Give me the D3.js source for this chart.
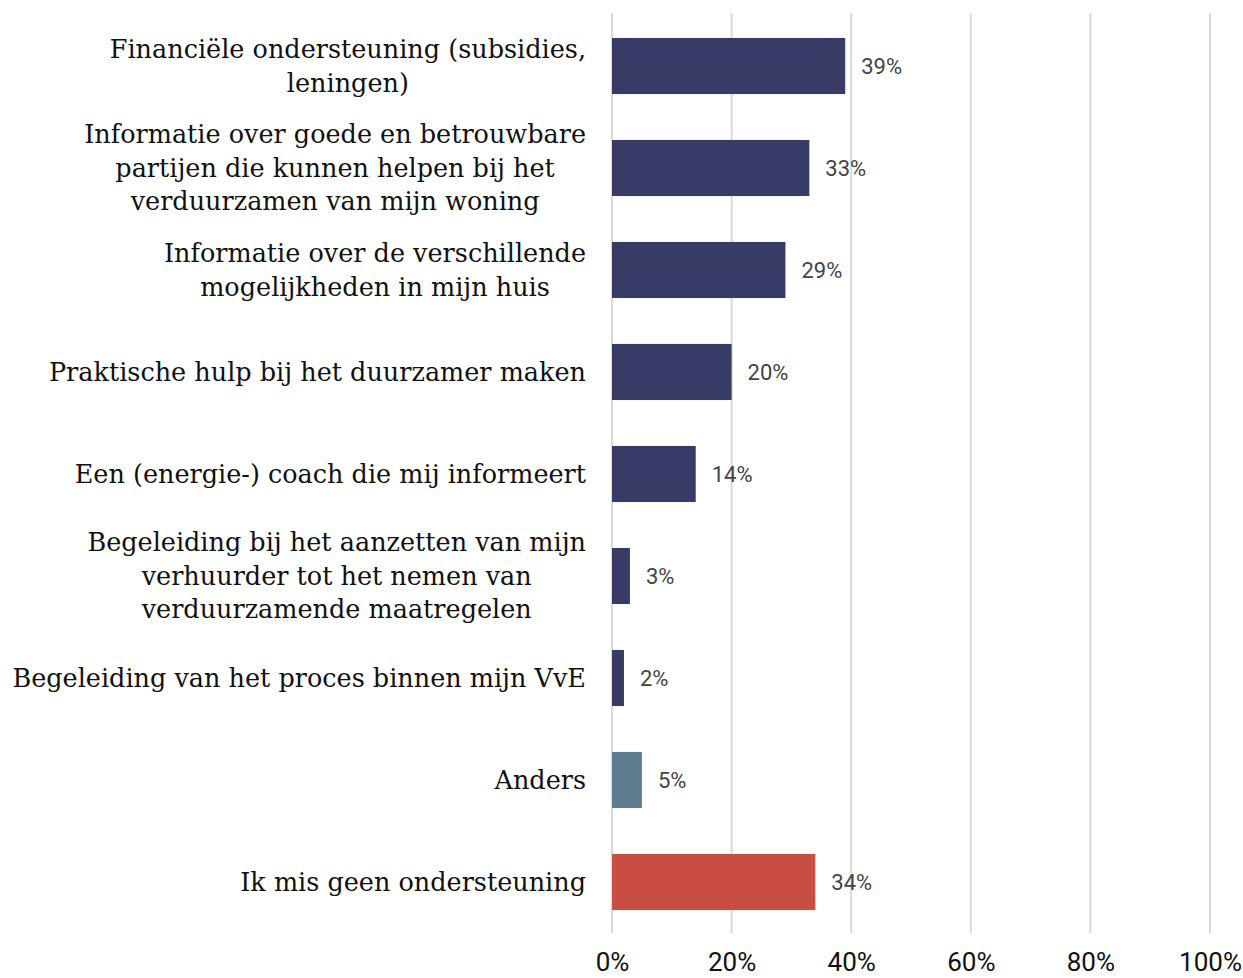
<!DOCTYPE html>
<html><head><meta charset="utf-8">
<script src="https://cdn.jsdelivr.net/npm/d3@7"></script>
<style>body{margin:0;background:#fff}svg{display:block}</style>
</head><body>
<svg id="c" width="1243" height="978"></svg>
<script>
const categories = [
  ["Financiële ondersteuning (subsidies,", "leningen)"],
  ["Informatie over goede en betrouwbare", "partijen die kunnen helpen bij het", "verduurzamen van mijn woning"],
  ["Informatie over de verschillende", "mogelijkheden in mijn huis"],
  ["Praktische hulp bij het duurzamer maken"],
  ["Een (energie-) coach die mij informeert"],
  ["Begeleiding bij het aanzetten van mijn", "verhuurder tot het nemen van", "verduurzamende maatregelen"],
  ["Begeleiding van het proces binnen mijn VvE"],
  ["Anders"],
  ["Ik mis geen ondersteuning"]
];
const values = [39, 33, 29, 20, 14, 3, 2, 5, 34];
const barGroups = ["main","main","main","main","main","main","main","other","none"];
const xTicks = [0, 20, 40, 60, 80, 100];

(function(){
const colors = {main:"#383b66", other:"#5f7b8f", none:"#c94d43"};
const svg = d3.select("#c");
const pl = 612, pr = 1210, pt = 15, pb = 933;
const x = d3.scaleLinear().domain([0,100]).range([pl,pr]);
const y = d3.scaleBand().domain(d3.range(values.length)).range([pt,pb]).paddingInner(0.45).paddingOuter(0.225);

svg.append("g").selectAll("line").data(xTicks).join("line")
  .attr("x1", d=>x(d)).attr("x2", d=>x(d)).attr("y1", 13).attr("y2", pb)
  .attr("stroke", "#d9d9d9").attr("stroke-width", 2);

svg.append("g").selectAll("rect").data(values).join("rect")
  .attr("x", x(0)).attr("y", (d,i)=>y(i)).attr("width", d=>x(d)-x(0)).attr("height", y.bandwidth())
  .attr("fill", (d,i)=>colors[barGroups[i]]);

svg.append("g").selectAll("text").data(values).join("text")
  .attr("x", d=>x(d)+16).attr("y", (d,i)=>y(i)+y.bandwidth()/2)
  .attr("dy", "0.36em")
  .attr("font-family", "Roboto, sans-serif").attr("font-size", 22).attr("fill", "#444")
  .text(d=>d+"%");

const lh = 33.5;
const lg = svg.append("g").attr("font-family", "'DejaVu Serif', serif").attr("font-size", 25.5).attr("fill", "#111");
categories.forEach((lines,i)=>{
  const cy = y(i)+y.bandwidth()/2;
  const t = lg.append("text").attr("text-anchor","middle");
  lines.forEach((ln,k)=>{
    t.append("tspan").attr("y", cy + (k-(lines.length-1)/2)*lh).attr("dy","0.35em").text(ln);
  });
  let maxW = 0;
  t.selectAll("tspan").each(function(){ maxW = Math.max(maxW, this.getComputedTextLength()); });
  t.selectAll("tspan").attr("x", 586 - maxW/2);
});

const ax = svg.append("g").attr("transform", `translate(0,${pb})`)
  .call(d3.axisBottom(x).tickValues(xTicks).tickFormat(d=>d+"%").tickSize(0));
ax.select(".domain").remove();
ax.selectAll("text").attr("y", 38).attr("dy", 0)
  .attr("font-family","Roboto, sans-serif")
  .attr("font-size", 26).attr("fill","#111");
})();
</script>
</body></html>
